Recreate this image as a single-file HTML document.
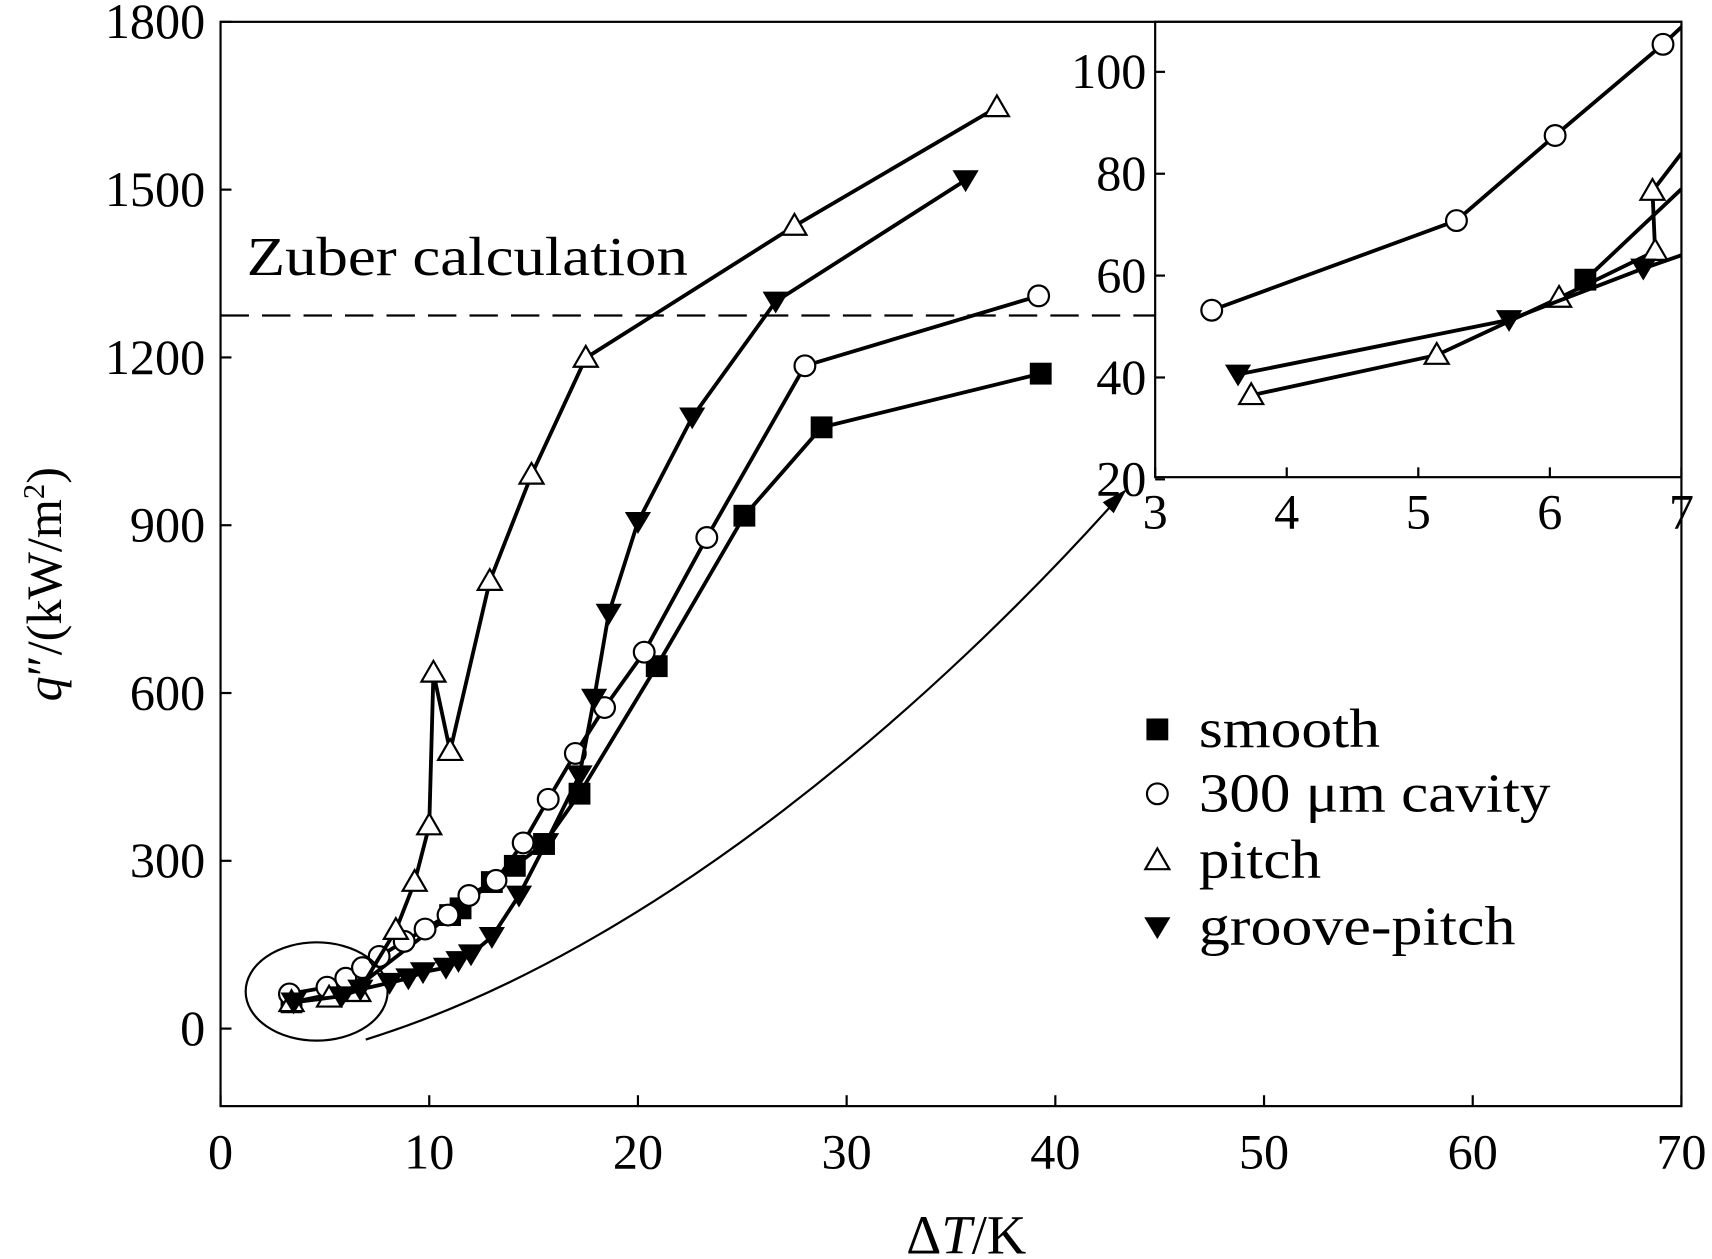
<!DOCTYPE html>
<html><head><meta charset="utf-8"><style>
html,body{margin:0;padding:0;background:#fff;}
svg{display:block;font-family:"Liberation Serif",serif;}
</style></head><body>
<svg width="1712" height="1259" viewBox="0 0 1568 1153" preserveAspectRatio="none" xmlns="http://www.w3.org/2000/svg">
<g id="root"></g>
</svg>
<script>
// Main chart data
const pitchX=[3.4,5.2,6.6,8.4,9.3,10.0,10.2,11.0,12.9,14.9,17.5,27.5,37.2];
const pitchY=[47,55,65,176,262,363,636,496,800,990,1199,1435,1647];
const grooveX=[3.5,5.8,6.7,8.1,9.0,9.7,10.8,11.4,12.0,13.0,14.3,15.6,17.2,17.9,18.6,20.0,22.6,26.6,35.7];
const grooveY=[47,58,70,82,90,101,109,121,133,164,238,332,453,590,742,906,1093,1300,1517];
const smoothX=[3.4,6.4,11.0,11.5,13.0,14.1,15.5,17.2,20.9,25.1,28.8,39.3];
const smoothY=[47,70,203,215,262,291,330,420,648,917,1075,1171];
const cavX=[3.3,5.1,6.0,6.8,7.6,8.8,9.8,10.9,11.9,13.2,14.5,15.7,17.0,18.4,20.3,23.3,28.0,39.2];
const cavY=[62,74,90,109,129,156,178,203,238,265,332,410,492,574,673,878,1185,1310];
const xTicks=[0,10,20,30,40,50,60,70];
const yTicks=[0,300,600,900,1200,1500,1800];
const zuberValue=1275;
// Inset data
const inCavX=[3.43,5.29,6.04,6.86,7.05];
const inCavY=[53.2,70.8,87.5,105.4,110];
const inPitchX=[3.73,5.14,6.07,6.8,6.78,7.0];
const inPitchY=[36.5,44.4,55.6,64.8,76.6,84];
const inGrooveX=[3.63,5.69,6.71,7.0];
const inGrooveY=[40.6,51.3,61.4,64];
const inSmoothX=[6.27,7.0];
const inSmoothY=[59.2,77];
const inXTicks=[3,4,5,6,7];
const inYTicks=[20,40,60,80,100];

const NS="http://www.w3.org/2000/svg";
const root=document.getElementById('root');
function el(tag,attrs,parent){const e=document.createElementNS(NS,tag);for(const k in attrs)e.setAttribute(k,attrs[k]);(parent||root).appendChild(e);return e;}
const sx=v=>202+v*(1338/70);
const sy=v=>942-v*(922/1800);
const ix=v=>1058+(v-3)*120.5;
const iy=v=>439-(v-20)*(93.3/20);

function marker(type,x,y,g){
  let m;
  if(type==='sq') m=el('rect',{x:x-10,y:y-10,width:20,height:20,fill:'#000'},g);
  else if(type==='ci') m=el('circle',{cx:x,cy:y,r:9.5,fill:'#fff',stroke:'#000','stroke-width':2},g);
  else if(type==='tr') m=el('polygon',{points:`${x},${y-11} ${x-11},${y+8} ${x+11},${y+8}`,fill:'#fff',stroke:'#000','stroke-width':2},g);
  else m=el('polygon',{points:`${x-12},${y-9} ${x+12},${y-9} ${x},${y+11}`,fill:'#000'},g);
  
  
}
function series(name,X,Y,type,fx,fy){
  const g=el('g',{});
  
  
  const pts=X.map((x,i)=>fx(x)+','+fy(Y[i])).join(' ');
  el('polyline',{points:pts,fill:'none',stroke:'#000','stroke-width':3.5},g);
  for(let i=0;i<X.length;i++) marker(type,fx(X[i]),fy(Y[i]),g);
}
// main axes
const frame=el('rect',{x:202,y:20,width:1338,height:993,fill:'none',stroke:'#000','stroke-width':2});

xTicks.forEach(t=>{
  el('line',{x1:sx(t),x2:sx(t),y1:1013,y2:1003,stroke:'#000','stroke-width':2});
  const tx=el('text',{x:sx(t),y:1070,'font-size':46,'text-anchor':'middle'});tx.textContent=t;
  
});
yTicks.forEach(t=>{
  el('line',{x1:202,x2:212,y1:sy(t),y2:sy(t),stroke:'#000','stroke-width':2});
  const tx=el('text',{x:188,y:sy(t)+15,'font-size':46,'text-anchor':'end'});tx.textContent=t;
  
});
const xt=el('text',{x:885,y:1148,'font-size':50,'text-anchor':'middle'});
xt.innerHTML='Δ<tspan font-style="italic">T</tspan>/K';

const yt=el('text',{x:0,y:0,'font-size':46,'text-anchor':'middle',transform:'translate(56,535) rotate(-90)'});
yt.innerHTML='<tspan font-style="italic">q</tspan>″/(kW/m<tspan baseline-shift="super" font-size="28">2</tspan>)';

// zuber
const zl=el('line',{x1:202,x2:1058,y1:sy(zuberValue),y2:sy(zuberValue),stroke:'#000','stroke-width':2,'stroke-dasharray':'26,12'});

const zt=el('text',{x:226,y:252,'font-size':50,textLength:404,lengthAdjust:'spacingAndGlyphs'});zt.textContent='Zuber calculation';

// series
series('series-smooth',smoothX,smoothY,'sq',sx,sy);
series('series-cavity',cavX,cavY,'ci',sx,sy);
series('series-pitch',pitchX,pitchY,'tr',sx,sy);
series('series-groove-pitch',grooveX,grooveY,'dt',sx,sy);
// ellipse + arrow
const ell=el('ellipse',{cx:290,cy:908,rx:65,ry:45,fill:'none',stroke:'#000','stroke-width':2});

const arr=el('path',{d:'M335,952 C600,870 860,640 1025,455',fill:'none',stroke:'#000','stroke-width':2});

el('polygon',{points:'1032,448 1010,460 1020,470',fill:'#000'});
// legend
const leg=el('g',{});
[['sq','smooth',668,166],['ci','300 μm cavity',727,322],['tr','pitch',788,112],['dt','groove-pitch',849,290]].forEach(([t,l,y,w])=>{
  marker(t,1060,y,leg);
  const tx=el('text',{x:1098,y:y+16,'font-size':50,textLength:w,lengthAdjust:'spacingAndGlyphs'},leg);tx.textContent=l;
  
});
// inset
const inset=el('rect',{x:1058,y:20,width:482,height:417,fill:'#fff',stroke:'#000','stroke-width':2});

inXTicks.forEach(t=>{
  el('line',{x1:ix(t),x2:ix(t),y1:437,y2:428,stroke:'#000','stroke-width':2});
  const tx=el('text',{x:ix(t),y:484,'font-size':46,'text-anchor':'middle'});tx.textContent=t;
  
});
inYTicks.forEach(t=>{
  el('line',{x1:1058,x2:1067,y1:iy(t),y2:iy(t),stroke:'#000','stroke-width':2});
  const tx=el('text',{x:1050,y:iy(t)+15,'font-size':46,'text-anchor':'end'});tx.textContent=t;
  
});
const clip=el('clipPath',{id:'ic'});el('rect',{x:1058,y:20,width:482,height:417},clip);
const ig=el('g',{'clip-path':'url(#ic)'});

function iseries(name,X,Y,type,n){
  const g=el('g',{},ig);
  
  
  el('polyline',{points:X.map((x,i)=>ix(x)+','+iy(Y[i])).join(' '),fill:'none',stroke:'#000','stroke-width':3.5},g);
  for(let i=0;i<n;i++) marker(type,ix(X[i]),iy(Y[i]),g);
}
iseries('inset-smooth',inSmoothX,inSmoothY,'sq',1);
iseries('inset-cavity',inCavX,inCavY,'ci',4);
iseries('inset-pitch',inPitchX,inPitchY,'tr',5);
iseries('inset-groove-pitch',inGrooveX,inGrooveY,'dt',3);
</script>
</body></html>
